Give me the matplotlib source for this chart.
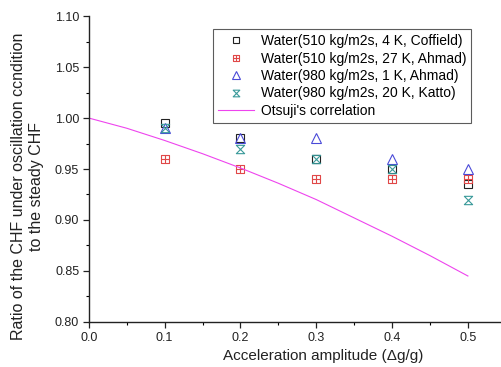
import matplotlib
matplotlib.use("Agg")
import matplotlib.pyplot as plt
from matplotlib.path import Path
from matplotlib.ticker import MultipleLocator

plt.rcParams["font.family"] = ["Liberation Sans", "DejaVu Sans"]

amplitude = [0.1, 0.2, 0.3, 0.4, 0.5]
coffield_4k = [0.995, 0.98, 0.96, 0.95, 0.935]
ahmad_27k = [0.96, 0.95, 0.94, 0.94, 0.94]
ahmad_1k = [0.99, 0.98, 0.98, 0.96, 0.95]
katto_20k = [0.99, 0.97, 0.96, 0.95, 0.92]

otsuji_x = [0.0, 0.05, 0.1, 0.15, 0.2, 0.25, 0.3, 0.35, 0.4, 0.45, 0.5]
otsuji_y = [1.0, 0.990, 0.978, 0.965, 0.951, 0.936, 0.920, 0.902, 0.884, 0.865, 0.845]

labels = [
    "Water(510 kg/m2s, 4 K, Coffield)",
    "Water(510 kg/m2s, 27 K, Ahmad)",
    "Water(980 kg/m2s, 1 K, Ahmad)",
    "Water(980 kg/m2s, 20 K, Katto)",
    "Otsuji's correlation",
]

# Origin-style symbols: boxed plus and an hourglass cross
box_plus = Path(
    [(-1, -1), (1, -1), (1, 1), (-1, 1), (-1, -1), (0, -1), (0, 1), (-1, 0), (1, 0)],
    [Path.MOVETO, Path.LINETO, Path.LINETO, Path.LINETO, Path.CLOSEPOLY,
     Path.MOVETO, Path.LINETO, Path.MOVETO, Path.LINETO],
)
hourglass = Path(
    [(-1, 1), (1, 1), (-1, -1), (1, -1), (-1, 1)],
    [Path.MOVETO, Path.LINETO, Path.LINETO, Path.LINETO, Path.CLOSEPOLY],
)

fig = plt.figure(figsize=(5.02, 3.67), dpi=100)
ax = fig.add_axes([0.177, 0.123, 0.823, 0.833])

ms = 6
ax.plot(amplitude, coffield_4k, ls="none", marker="s", ms=ms, mfc="none",
        mec="#222222", mew=0.8, label=labels[0])
ax.plot(amplitude, ahmad_27k, ls="none", marker=box_plus, ms=ms, mfc="none",
        mec="#e04848", mew=0.8, label=labels[1])
ax.plot(amplitude, ahmad_1k, ls="none", marker="^", ms=ms + 1, mfc="none",
        mec="#4a4ad8", mew=0.8, label=labels[2])
ax.plot(amplitude, katto_20k, ls="none", marker=hourglass, ms=ms, mfc="none",
        mec="#3a9a9a", mew=0.8, label=labels[3])
ax.plot(otsuji_x, otsuji_y, color="#ee44ee", lw=0.8, label=labels[4])

ax.set_xlim(0, 0.545)
ax.set_ylim(0.80, 1.10)
ax.xaxis.set_major_locator(MultipleLocator(0.1))
ax.xaxis.set_minor_locator(MultipleLocator(0.05))
ax.yaxis.set_major_locator(MultipleLocator(0.05))
ax.yaxis.set_minor_locator(MultipleLocator(0.025))
ax.xaxis.set_major_formatter(plt.FuncFormatter(lambda v, p: f"{v:.1f}"))
ax.yaxis.set_major_formatter(plt.FuncFormatter(lambda v, p: f"{v:.2f}"))
ax.tick_params(which="major", direction="out", length=4, width=0.9,
               labelsize=9, colors="#222222", pad=3)
ax.tick_params(which="minor", direction="out", length=2, width=0.8)

for side in ("top", "right"):
    ax.spines[side].set_visible(False)
for side in ("left", "bottom"):
    ax.spines[side].set_linewidth(1.0)
    ax.spines[side].set_color("#222222")

fig.text(0.644, 0.030, "Acceleration amplitude (\u0394g/g)", ha="center",
         va="center", fontsize=11, color="#222222")
fig.text(0.055, 0.493, "Ratio of the CHF under oscillation ccndition\nto the steady CHF",
         ha="center", va="center", rotation=90, fontsize=11.5, color="#222222",
         linespacing=1.2)

leg = ax.legend(loc="upper right", bbox_to_anchor=(0.942, 0.980), fontsize=10,
                frameon=True, fancybox=False, edgecolor="#333333",
                labelspacing=0.25, handlelength=2.6, handletextpad=0.5,
                borderpad=0.35, markerscale=0.8)
leg.get_frame().set_linewidth(0.8)

fig.savefig("out.png", dpi=100)
